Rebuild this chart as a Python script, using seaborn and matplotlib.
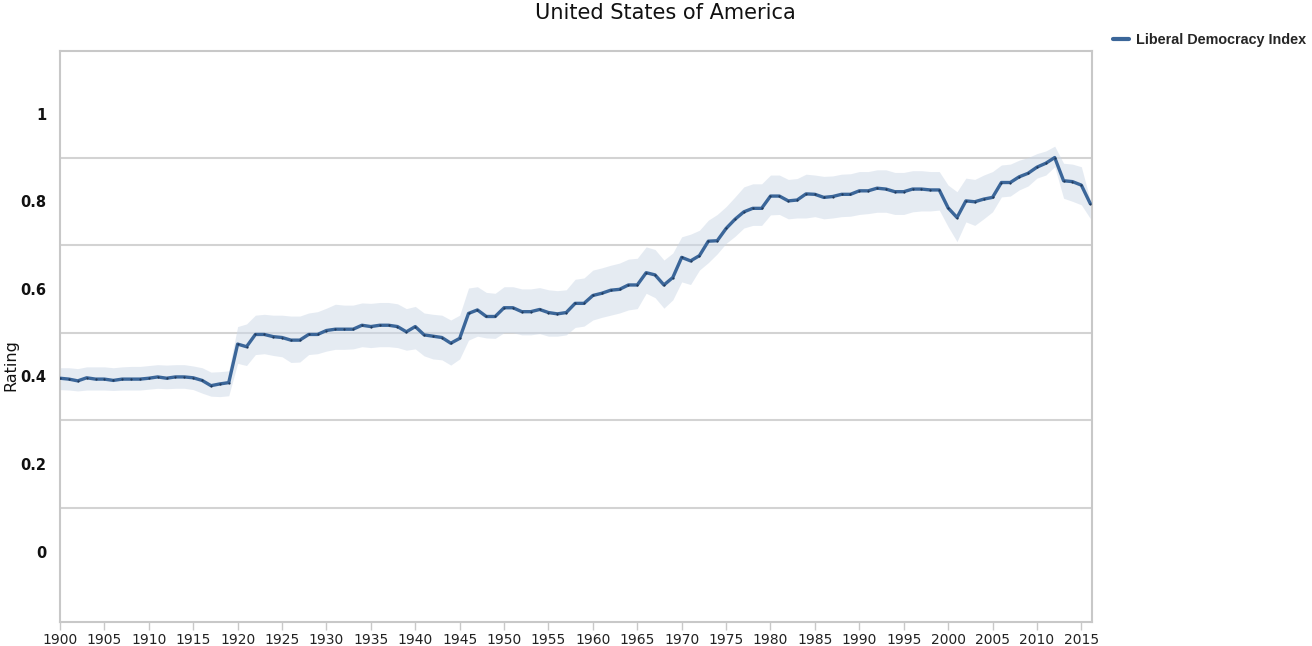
import numpy as np
import pandas as pd
import matplotlib
matplotlib.use("Agg")
import matplotlib.pyplot as plt
import seaborn as sns

years = list(range(1900, 2017))

libdem = [
    0.396, 0.394, 0.390, 0.397, 0.394, 0.394, 0.391, 0.394, 0.394, 0.394,
    0.396, 0.399, 0.396, 0.399, 0.399, 0.397, 0.391, 0.379, 0.383, 0.386,
    0.474, 0.468, 0.496, 0.496, 0.491, 0.489, 0.483, 0.483, 0.496, 0.496,
    0.505, 0.508, 0.508, 0.508, 0.517, 0.514, 0.517, 0.517, 0.514, 0.502,
    0.514, 0.495, 0.492, 0.489, 0.476, 0.487, 0.544, 0.552, 0.537, 0.537,
    0.557, 0.557, 0.548, 0.548, 0.553, 0.546, 0.543, 0.546, 0.567, 0.567,
    0.585, 0.590, 0.597, 0.599, 0.609, 0.609, 0.637, 0.632, 0.609, 0.626,
    0.672, 0.664, 0.676, 0.709, 0.710, 0.738, 0.759, 0.776, 0.784, 0.784,
    0.812, 0.812, 0.801, 0.803, 0.817, 0.816, 0.809, 0.811, 0.816, 0.816,
    0.824, 0.824, 0.830, 0.828, 0.822, 0.822, 0.828, 0.828, 0.826, 0.826,
    0.785, 0.763, 0.801, 0.799, 0.805, 0.809, 0.843, 0.843, 0.856, 0.864,
    0.878, 0.887, 0.900, 0.847, 0.845, 0.837, 0.795,
]

lower = [
    0.370, 0.369, 0.367, 0.369, 0.369, 0.369, 0.368, 0.369, 0.369, 0.369,
    0.371, 0.373, 0.372, 0.373, 0.373, 0.370, 0.362, 0.355, 0.354, 0.356,
    0.430, 0.425, 0.450, 0.452, 0.448, 0.445, 0.432, 0.433, 0.450, 0.452,
    0.458, 0.462, 0.462, 0.463, 0.468, 0.466, 0.468, 0.468, 0.466, 0.460,
    0.463, 0.447, 0.440, 0.438, 0.426, 0.440, 0.483, 0.492, 0.488, 0.487,
    0.500, 0.500, 0.495, 0.495, 0.498, 0.492, 0.492, 0.495, 0.512, 0.515,
    0.529, 0.535, 0.540, 0.545, 0.552, 0.555, 0.590, 0.580, 0.556, 0.575,
    0.616, 0.610, 0.643, 0.660, 0.680, 0.704, 0.720, 0.739, 0.745, 0.745,
    0.769, 0.770, 0.760, 0.762, 0.762, 0.765, 0.760, 0.762, 0.765, 0.766,
    0.770, 0.772, 0.775, 0.775, 0.770, 0.770, 0.776, 0.778, 0.778, 0.780,
    0.742, 0.708, 0.753, 0.745, 0.760, 0.776, 0.810, 0.812, 0.826, 0.835,
    0.853, 0.860, 0.879, 0.807, 0.800, 0.792, 0.761,
]

upper = [
    0.420, 0.420, 0.418, 0.422, 0.422, 0.422, 0.420, 0.422, 0.423, 0.423,
    0.425, 0.427, 0.426, 0.427, 0.427, 0.424, 0.420, 0.410, 0.411, 0.413,
    0.514, 0.520, 0.540, 0.542, 0.540, 0.540, 0.538, 0.538, 0.545, 0.548,
    0.556, 0.565, 0.563, 0.563, 0.568, 0.567, 0.569, 0.569, 0.566, 0.555,
    0.560, 0.545, 0.542, 0.540, 0.529, 0.540, 0.602, 0.605, 0.592, 0.590,
    0.605, 0.605, 0.600, 0.600, 0.603, 0.598, 0.596, 0.598, 0.622, 0.625,
    0.643, 0.648, 0.654, 0.659, 0.668, 0.670, 0.696, 0.690, 0.666, 0.682,
    0.719, 0.725, 0.734, 0.757, 0.770, 0.788, 0.810, 0.833, 0.840, 0.840,
    0.860, 0.860, 0.850, 0.852, 0.862, 0.860, 0.857, 0.858, 0.862, 0.863,
    0.868, 0.868, 0.872, 0.872, 0.866, 0.866, 0.870, 0.870, 0.868, 0.868,
    0.837, 0.822, 0.853, 0.850, 0.860, 0.868, 0.883, 0.885, 0.894, 0.900,
    0.909, 0.915, 0.926, 0.887, 0.885, 0.879, 0.803,
]

x_ticks = list(range(1900, 2016, 5))
y_ticks = [0, 0.2, 0.4, 0.6, 0.8, 1]
y_ticklabels = ["0", "0.2", "0.4", "0.6", "0.8", "1"]
grid_levels = [0.1, 0.3, 0.5, 0.7, 0.9]

title = "United States of America"
series_name = "Liberal Democracy Index"
y_label = "Rating"

df = pd.DataFrame({"Year": years, "Rating": libdem, "lo": lower, "hi": upper})

sns.set_theme(style="white")
plt.rcParams["font.family"] = ["DejaVu Sans"]

fig = plt.figure(figsize=(13.12, 6.46), dpi=100)
ax = fig.add_axes([60 / 1312, 1 - 621.7 / 646, (1092 - 60) / 1312, (621.7 - 50.7) / 646])

line_color = "#3b6699"
ax.fill_between(df["Year"], df["lo"], df["hi"], color="#ccd8e7", alpha=0.5, linewidth=0, zorder=2)
sns.lineplot(data=df, x="Year", y="Rating", ax=ax, color=line_color, linewidth=2.4,
             marker="o", markersize=1.6, markeredgewidth=0, markerfacecolor="#1f3a5c",
             label=series_name, zorder=3)

ax.set_xlim(1900, 2016.2)
ax.set_ylim(-0.16, 1.144)

ax.set_yticks(y_ticks)
ax.set_yticklabels(y_ticklabels)
ax.set_yticks(grid_levels, minor=True)
ax.grid(False)
ax.grid(True, which="minor", axis="y", color="#d3d3d3", linewidth=1.5, zorder=1)
ax.tick_params(axis="y", which="both", length=0, pad=10, labelsize=10.5, labelcolor="#111111")
for t in ax.get_yticklabels():
    t.set_fontweight("bold")

ax.set_xticks(x_ticks)
ax.set_xticklabels([str(v) for v in x_ticks])
ax.tick_params(axis="x", which="major", bottom=True, length=6, width=1, color="#c8c8c8",
               labelsize=10, labelcolor="#222222", pad=2)

for s in ax.spines.values():
    s.set_visible(True)
    s.set_color("#c8c8c8")
    s.set_linewidth(1.5)

ax.set_xlabel("")
ax.set_ylabel("")
fig.text(11 / 1312, 1 - 365 / 646, y_label, rotation=90, ha="center", va="center",
         fontsize=11.5, color="#111111")

fig.text(0.507, 1 - 13 / 646, title, ha="center", va="center", fontsize=15, color="#111111")

leg = ax.legend(loc="upper left", bbox_to_anchor=(1113 / 1312, 1 - 33 / 646),
                bbox_transform=fig.transFigure, frameon=False, handlelength=1.1,
                handletextpad=0.5, borderaxespad=0, borderpad=0,
                prop={"family": "Liberation Sans", "weight": "bold", "size": 10.4})
for h in leg.legend_handles:
    h.set_marker("")
    h.set_linewidth(3)

fig.savefig("out.png", dpi=100)
